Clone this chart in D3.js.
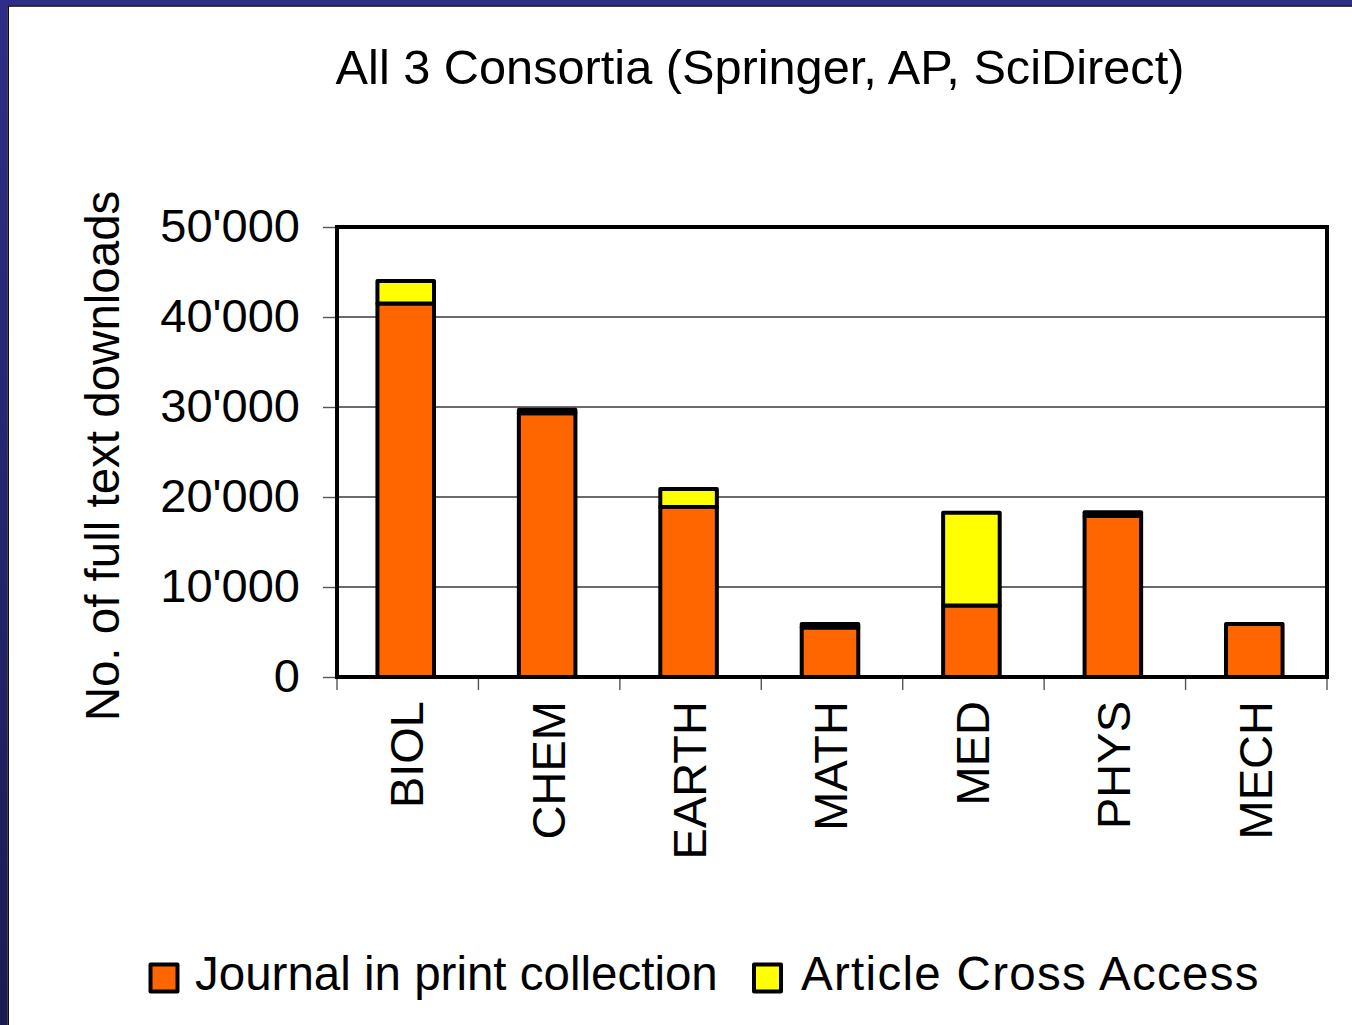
<!DOCTYPE html>
<html>
<head>
<meta charset="utf-8">
<script src="https://cdn.jsdelivr.net/npm/d3@7"></script>
<style>
  html, body { margin: 0; padding: 0; background: #fff; }
  svg { display: block; }
  text { font-family: "Liberation Sans", Arial, Helvetica, sans-serif; fill: #000; }
</style>
</head>
<body>
<svg id="chart" width="1352" height="1025"></svg>
<script>
// ---- data ----
const categories = ["BIOL", "CHEM", "EARTH", "MATH", "MED", "PHYS", "MECH"];
const printValues = [41500, 29300, 18900, 5500, 7950, 17900, 5900];
const crossValues = [2500, 400, 2000, 400, 10300, 400, 0];
const seriesNames = ["Journal in print collection", "Article Cross Access"];
const seriesColors = ["#FF6600", "#FFFF00"];
const yTicks = [0, 10000, 20000, 30000, 40000, 50000];
const titleText = "All 3 Consortia (Springer, AP, SciDirect)";
const yAxisTitle = "No. of full text downloads";

// ---- layout ----
const W = 1352, H = 1025;
const plot = { left: 337, right: 1327, top: 227, bottom: 677 };
const svg = d3.select("#chart");

// background & slide border
const defs = svg.append("defs");
const grad = defs.append("linearGradient").attr("id", "bordergrad")
  .attr("x1", 0).attr("y1", 0).attr("x2", 0).attr("y2", 1);
grad.append("stop").attr("offset", "0%").attr("stop-color", "#2E2E8A");
grad.append("stop").attr("offset", "100%").attr("stop-color", "#1B1B52");

svg.append("rect").attr("width", W).attr("height", H).attr("fill", "#fff");
svg.append("rect").attr("x", 0).attr("y", 0).attr("width", W).attr("height", 5.5).attr("fill", "#2E2E8A");
svg.append("rect").attr("x", 0).attr("y", 0).attr("width", 7.5).attr("height", H).attr("fill", "url(#bordergrad)");
svg.append("line").attr("x1", 7.5).attr("x2", W).attr("y1", 6).attr("y2", 6).attr("stroke", "#000").attr("stroke-width", 1.5);
svg.append("line").attr("x1", 8.2).attr("x2", 8.2).attr("y1", 6).attr("y2", H).attr("stroke", "#000").attr("stroke-width", 1.5);

// title
svg.append("text").attr("x", 760).attr("y", 84).attr("text-anchor", "middle")
  .attr("font-size", 48.7).text(titleText);

// scales
const x = d3.scaleBand().domain(categories).range([plot.left, plot.right]).paddingInner(0.6).paddingOuter(0.3);
const step = (plot.right - plot.left) / categories.length;
const y = d3.scaleLinear().domain([0, 50000]).range([plot.bottom, plot.top]);

// gridlines
svg.append("g").selectAll("line").data(yTicks.filter(d => d > 0 && d < 50000)).join("line")
  .attr("x1", plot.left).attr("x2", plot.right)
  .attr("y1", d => y(d)).attr("y2", d => y(d))
  .attr("stroke", "#3a3a3a").attr("stroke-width", 1.4);

// y axis
const fmt = v => d3.format(",")(v).replace(/,/g, "'");
const yAxis = d3.axisLeft(y).tickValues(yTicks).tickFormat(fmt).tickSize(14).tickPadding(0);
const yg = svg.append("g").attr("transform", `translate(${plot.left},0)`).call(yAxis);
yg.select(".domain").remove();
yg.selectAll(".tick line").attr("stroke", "#555").attr("stroke-width", 1.4);
yg.selectAll(".tick text").attr("font-size", 47).attr("x", -37).attr("dy", "0.31em")
  .attr("font-family", "'Liberation Sans', Arial, sans-serif").attr("fill", "#000");

// x ticks at band boundaries
const boundaries = d3.range(categories.length + 1).map(i => plot.left + i * step);
svg.append("g").selectAll("line").data(boundaries).join("line")
  .attr("x1", d => d).attr("x2", d => d).attr("y1", plot.bottom).attr("y2", plot.bottom + 13)
  .attr("stroke", "#555").attr("stroke-width", 1.4);

// stacked bars
const rows = categories.map((c, i) => ({ cat: c, print: printValues[i], cross: crossValues[i] }));
const stack = d3.stack().keys(["print", "cross"])(rows);
const barW = x.bandwidth();
svg.append("g").selectAll("g").data(stack).join("g")
  .attr("fill", (d, i) => seriesColors[i])
  .selectAll("rect").data(d => d).join("rect")
  .attr("x", d => x(d.data.cat) + (x.bandwidth() - barW) / 2 - 2)
  .attr("width", barW)
  .attr("y", d => y(d[1]))
  .attr("height", d => y(d[0]) - y(d[1]))
  .attr("stroke", "#000").attr("stroke-width", 4).attr("stroke-linejoin", "round");

// plot frame
svg.append("rect").attr("x", plot.left).attr("y", plot.top)
  .attr("width", plot.right - plot.left).attr("height", plot.bottom - plot.top)
  .attr("fill", "none").attr("stroke", "#000").attr("stroke-width", 4);

// x labels (rotated)
svg.append("g").selectAll("text").data(categories).join("text")
  .attr("transform", d => `translate(${x(d) + x.bandwidth() / 2 - 2},701) rotate(-90)`)
  .attr("text-anchor", "end").attr("dy", "0.37em").attr("font-size", 47)
  .text(d => d);

// y axis title
svg.append("text").attr("transform", "translate(119,456) rotate(-90)")
  .attr("text-anchor", "middle").attr("font-size", 47.5).text(yAxisTitle);

// legend
const legendItems = [
  { name: seriesNames[0], color: seriesColors[0], sx: 164, tx: 195, ls: 0 },
  { name: seriesNames[1], color: seriesColors[1], sx: 767.5, tx: 801, ls: 1.3 }
];
const lg = svg.append("g").selectAll("g").data(legendItems).join("g");
lg.append("rect").attr("x", d => d.sx - 13.5).attr("y", 964.5).attr("width", 27).attr("height", 27)
  .attr("fill", d => d.color).attr("stroke", "#000").attr("stroke-width", 4).attr("stroke-linejoin", "round");
lg.append("text").attr("x", d => d.tx).attr("y", 990).attr("font-size", 47.5)
  .attr("letter-spacing", d => d.ls).text(d => d.name);
</script>
</body>
</html>
